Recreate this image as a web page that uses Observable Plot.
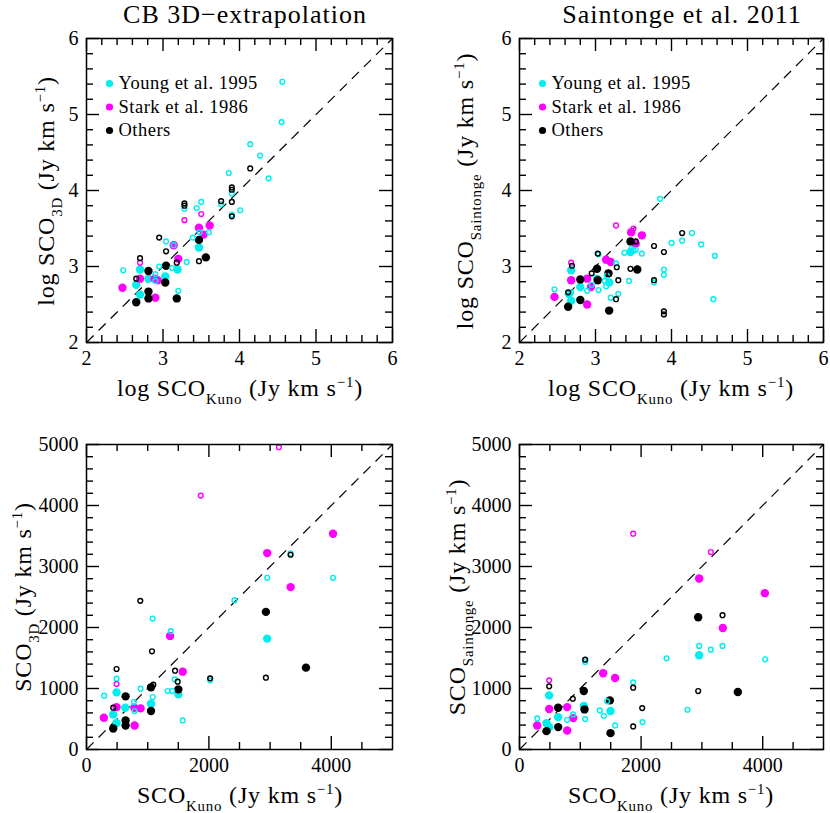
<!DOCTYPE html>
<html><head><meta charset="utf-8">
<script src="https://cdn.jsdelivr.net/npm/d3@7"></script>
<script src="https://cdn.jsdelivr.net/npm/@observablehq/plot@0.6"></script>
<style>
body{margin:0;background:#fff}
#wrap{position:relative;width:830px;height:813px;overflow:hidden}
#wrap svg{position:absolute}
</style>
</head><body><div id="wrap"></div>
<script>
// ---------- DATA ----------
// Top-left: log S_CO(3D) vs log S_CO(Kuno)
const tlYoungFilled = [[2.70,2.96],[2.65,2.76],[2.70,2.63],[2.81,2.84],[3.03,2.87],[3.19,2.96],[3.47,3.25]];
const tlYoungOpen = [[4.56,5.43],[4.55,4.90],[4.14,4.61],[4.27,4.46],[4.38,4.16],[3.86,4.23],[3.90,3.96],[3.76,3.82],[3.90,3.68],[4.01,3.74],[3.28,3.76],[3.44,3.77],[3.50,3.85],[3.60,3.45],[3.39,3.38],[3.48,3.45],[3.04,3.33],[3.14,3.28],[3.31,3.06],[2.95,3.00],[3.12,2.98],[2.90,2.90],[2.90,2.81],[2.48,2.95],[3.20,2.68]];
const tlStarkFilled = [[2.47,2.72],[2.70,2.84],[2.93,2.82],[2.89,2.84],[2.90,2.59],[3.14,3.28],[3.20,3.10],[3.47,3.51],[3.61,3.54],[3.53,3.42]];
const tlStarkOpen = [[2.70,3.05],[3.28,3.61],[3.50,3.69]];
const tlOthersFilled = [[2.81,2.94],[2.81,2.67],[2.81,2.58],[2.65,2.53],[3.04,3.01],[3.03,2.79],[3.18,2.58],[3.47,3.35],[3.56,3.12]];
const tlOthersOpen = [[2.70,3.11],[2.65,2.84],[2.95,3.38],[3.04,3.20],[3.18,3.05],[3.47,3.07],[3.28,3.83],[3.28,3.80],[3.76,3.86],[3.90,4.04],[3.90,4.01],[3.90,3.85],[3.90,3.66],[4.14,4.29]];

// Top-right: log S_CO(Saintonge) vs log S_CO(Kuno)
const trYoungFilled = [[2.68,2.95],[2.80,2.73],[2.68,2.55],[2.65,2.64],[3.02,2.84],[3.18,2.79],[3.46,3.19]];
const trYoungOpen = [[3.85,3.89],[4.27,3.44],[4.14,3.34],[4.00,3.31],[4.39,3.29],[4.57,3.14],[4.55,2.57],[3.90,2.96],[3.90,2.89],[3.77,2.79],[3.61,3.17],[3.38,3.18],[3.53,3.22],[3.47,3.23],[3.50,3.21],[3.44,2.81],[3.30,2.64],[3.20,2.59],[3.27,3.04],[3.04,3.16],[3.15,2.88],[3.12,2.81],[3.14,2.74],[3.04,2.69],[2.89,2.68],[2.95,2.76],[2.68,2.66],[2.46,2.70]];
const trStarkFilled = [[2.46,2.60],[2.68,2.82],[2.89,2.84],[2.94,2.73],[2.89,2.50],[3.14,3.09],[3.20,3.06],[3.47,3.45],[3.61,3.41],[3.53,3.30]];
const trStarkOpen = [[2.68,3.05],[3.27,3.54],[3.50,3.50]];
const trOthersFilled = [[2.64,2.47],[2.80,2.56],[2.80,2.83],[3.02,2.97],[3.03,2.82],[3.17,2.91],[3.18,2.42],[3.46,3.33],[3.55,2.96]];
const trOthersOpen = [[2.64,2.66],[2.69,3.01],[3.03,3.17],[2.95,2.91],[3.18,2.90],[3.28,2.99],[3.30,2.82],[3.27,2.57],[3.46,2.97],[3.77,3.27],[3.77,2.82],[3.90,3.19],[4.14,3.44],[3.90,2.41],[3.90,2.37],[3.53,3.33]];

// Bottom-left: S_CO(3D) vs S_CO(Kuno)
const blYoungFilled = [[2953,1818],[491,936],[1501,904],[1054,750],[633,685],[437,575],[491,433]];
const blYoungOpen = [[3335,3215],[4028,2815],[2953,2815],[2418,2448],[1081,2147],[1376,1939],[1441,1150],[2020,1134],[491,1161],[884,997],[1081,860],[1326,958],[1397,958],[775,778],[786,630],[289,882],[1572,476]];
const blStarkFilled = [[4028,3538],[2953,3220],[3335,2662],[1365,1862],[1572,1276],[284,520],[491,695],[781,685],[884,674],[786,394]];
const blStarkOpen = [[3144,4956],[1867,4162],[491,1073]];
const blOthersFilled = [[2931,2256],[3586,1342],[1501,986],[1054,1019],[1054,630],[639,871],[639,476],[639,394],[437,345]];
const blOthersOpen = [[879,2437],[1070,1610],[491,1320],[1447,1292],[2931,1177],[2020,1166],[3335,3193],[1490,1112],[1092,1062],[437,685]];

// Bottom-right: S_CO(Saintonge) vs S_CO(Kuno)
const brYoungFilled = [[2955,1544],[488,887],[636,531],[1058,712],[1497,630],[444,433],[488,367]];
const brYoungOpen = [[2955,1698],[3147,1637],[3339,1698],[2418,1495],[4040,1479],[2763,652],[1870,1101],[2023,449],[1573,394],[1080,1435],[1080,498],[1321,641],[1387,553],[784,487],[883,575],[291,509],[1442,789]];
const brStarkFilled = [[2955,2804],[4035,2563],[3344,1993],[1376,1249],[1573,1172],[488,663],[784,695],[883,515],[784,312],[291,394]];
const brStarkOpen = [[1870,3538],[3147,3237],[488,1134]];
const brOthersFilled = [[2939,2169],[3591,942],[1058,958],[1069,657],[636,685],[636,367],[444,301],[1497,268],[1486,805]];
const brOthersOpen = [[3339,2202],[2939,958],[1870,1013],[2018,679],[1870,378],[877,832],[488,1035],[1080,1473]];

// Legend, ticks, labels
const legendItems = ["Young et al. 1995", "Stark et al. 1986", "Others"];
const titles = ["CB 3D\u2212extrapolation", "Saintonge et al. 2011"];
const logDomain = [2, 6];
const linDomain = [0, 5000];
const logTickLabels = [2, 3, 4, 5, 6];
const logMinor = [2.2,2.4,2.6,2.8,3.2,3.4,3.6,3.8,4.2,4.4,4.6,4.8,5.2,5.4,5.6,5.8];
const linXTickLabels = [0, 2000, 4000];
const linXMinor = [500,1000,1500,2500,3000,3500,4500];
const linYTickLabels = [0, 1000, 2000, 3000, 4000, 5000];
const linYMinor = [200,400,600,800,1200,1400,1600,1800,2200,2400,2600,2800,3200,3400,3600,3800,4200,4400,4600,4800];

const lblLogKuno = [{t:"log SCO"},{t:"Kuno",sub:1},{t:" (Jy km s"},{t:"\u22121",sup:1},{t:")"}];
const lblLog3D = [{t:"log SCO"},{t:"3D",sub:1},{t:" (Jy km s"},{t:"\u22121",sup:1},{t:")"}];
const lblLogSaint = [{t:"log SCO"},{t:"Saintonge",sub:1},{t:" (Jy km s"},{t:"\u22121",sup:1},{t:")"}];
const lblKuno = [{t:"SCO"},{t:"Kuno",sub:1},{t:" (Jy km s"},{t:"\u22121",sup:1},{t:")"}];
const lbl3D = [{t:"SCO"},{t:"3D",sub:1},{t:" (Jy km s"},{t:"\u22121",sup:1},{t:")"}];
const lblSaint = [{t:"SCO"},{t:"Saintonge",sub:1},{t:" (Jy km s"},{t:"\u22121",sup:1},{t:")"}];

// ---------- STYLE ----------
const FONT = "'Liberation Serif', 'Times New Roman', serif";
const CYAN = "#00eeee", MAGENTA = "#ff00ff", BLACK = "#000000";
const colors = [CYAN, MAGENTA, BLACK];

function richLabel(svg, x, y, rotate, size, parts) {
  const t = d3.select(svg).append("text")
    .attr("transform", `translate(${x},${y}) rotate(${rotate})`)
    .attr("text-anchor", "middle")
    .attr("letter-spacing", 0.8)
    .attr("font-family", FONT).attr("font-size", size).attr("fill", "black");
  let shift = 0;
  for (const p of parts) {
    const target = p.sub ? size * 0.32 : p.sup ? -size * 0.38 : 0;
    t.append("tspan").attr("dy", target - shift)
      .attr("font-size", (p.sub || p.sup) ? size * 0.62 : size).text(p.t);
    shift = target;
  }
}

function makePanel(c) {
  const pw = c.W - c.m.l - c.m.r, ph = c.H - c.m.t - c.m.b;
  const LMAJ = 13, LMIN = 7, SW = 1.4;
  const marks = [];
  const ticksX = (vals, len) => [
    Plot.tickX(vals, {x: d => d, insetTop: ph - len, stroke: BLACK, strokeWidth: SW}),
    Plot.tickX(vals, {x: d => d, insetBottom: ph - len, stroke: BLACK, strokeWidth: SW})
  ];
  const ticksY = (vals, len) => [
    Plot.tickY(vals, {y: d => d, insetRight: pw - len, stroke: BLACK, strokeWidth: SW}),
    Plot.tickY(vals, {y: d => d, insetLeft: pw - len, stroke: BLACK, strokeWidth: SW})
  ];
  marks.push(...ticksX(c.xMajor, LMAJ), ...ticksX(c.xMinor, LMIN), ...ticksY(c.yMajor, LMAJ), ...ticksY(c.yMinor, LMIN));
  marks.push(Plot.link([c.diag], {x1: d => d[0], y1: d => d[0], x2: d => d[1], y2: d => d[1], stroke: BLACK, strokeWidth: 1.2, strokeDasharray: "10,7"}));
  // filled points first, then open ones
  c.filled.forEach((arr, i) => marks.push(Plot.dot(arr, {x: d => d[0], y: d => d[1], r: 4.2, fill: colors[i], stroke: "none"})));
  c.open.forEach((arr, i) => marks.push(Plot.dot(arr, {x: d => d[0], y: d => d[1], r: 2.4, fill: "none", stroke: colors[i], strokeWidth: 1.4})));
  if (c.legend) {
    legendItems.forEach((name, i) => {
      marks.push(Plot.dot([name], {frameAnchor: "top-left", dx: 23, dy: 45 + i * 23.5, r: 3.6, fill: colors[i], stroke: "none"}));
      marks.push(Plot.text([name], {frameAnchor: "top-left", dx: 32, dy: 45 + i * 23.5, text: d => d, textAnchor: "start", lineAnchor: "middle", fontSize: 18.5, fontFamily: FONT, fill: BLACK, className: "legend-text"}));
    });
  }
  marks.push(Plot.frame({stroke: BLACK, strokeWidth: 1.5}));
  marks.push(Plot.axisX(c.xLabels, {tickSize: 0, tickPadding: 8, fontSize: 20, fontFamily: FONT, label: null, tickFormat: "d"}));
  marks.push(Plot.axisY(c.yLabels, {tickSize: 0, tickPadding: 8, fontSize: 20, fontFamily: FONT, label: null, tickFormat: "d"}));
  const svg = Plot.plot({
    width: c.W, height: c.H,
    marginLeft: c.m.l, marginRight: c.m.r, marginTop: c.m.t, marginBottom: c.m.b,
    x: {domain: c.domain, label: null},
    y: {domain: c.domain, label: null},
    style: {fontFamily: FONT, background: "white", overflow: "visible", color: "black"},
    marks
  });
  svg.style.left = c.left + "px";
  svg.style.top = c.top + "px";
  d3.select(svg).selectAll(".legend-text text, g.legend-text text").attr("letter-spacing", 0.5);
  if (c.title) {
    d3.select(svg).append("text").attr("x", c.titleX).attr("y", 23).attr("text-anchor", "middle")
      .attr("letter-spacing", 1)
      .attr("font-family", FONT).attr("font-size", 26).attr("fill", "black").text(c.title);
  }
  richLabel(svg, c.xLab[0], c.xLab[1], 0, 24, c.xLabParts);
  richLabel(svg, c.yLab[0], c.yLab[1], -90, 24, c.yLabParts);
  document.getElementById("wrap").appendChild(svg);
}

const W = 415, H = 406;
const logCommon = {W, H, domain: logDomain, diag: logDomain, xMajor: logTickLabels, xMinor: logMinor, yMajor: logTickLabels, yMinor: logMinor, xLabels: logTickLabels, yLabels: logTickLabels, legend: true};
const linCommon = {W, H, domain: linDomain, diag: linDomain, xMajor: linXTickLabels, xMinor: linXMinor, yMajor: linYTickLabels, yMinor: linYMinor, xLabels: linXTickLabels, yLabels: linYTickLabels, legend: false};

makePanel({...logCommon, left: 0, top: 0, m: {l: 86, r: 23, t: 38, b: 64},
  filled: [tlYoungFilled, tlStarkFilled, tlOthersFilled], open: [tlYoungOpen, tlStarkOpen, tlOthersOpen],
  title: titles[0], titleX: 245, xLab: [240, 396], xLabParts: lblLogKuno, yLab: [54, 191], yLabParts: lblLog3D});
makePanel({...logCommon, left: 415, top: 0, m: {l: 104, r: 7, t: 38, b: 64},
  filled: [trYoungFilled, trStarkFilled, trOthersFilled], open: [trYoungOpen, trStarkOpen, trOthersOpen],
  title: titles[1], titleX: 267, xLab: [256, 396], xLabParts: lblLogKuno, yLab: [58, 191], yLabParts: lblLogSaint});
makePanel({...linCommon, left: 0, top: 406, m: {l: 86, r: 23, t: 38, b: 63},
  filled: [blYoungFilled, blStarkFilled, blOthersFilled], open: [blYoungOpen, blStarkOpen, blOthersOpen],
  xLab: [240, 397], xLabParts: lblKuno, yLab: [31, 191], yLabParts: lbl3D});
makePanel({...linCommon, left: 415, top: 406, m: {l: 104, r: 7, t: 38, b: 63},
  filled: [brYoungFilled, brStarkFilled, brOthersFilled], open: [brYoungOpen, brStarkOpen, brOthersOpen],
  xLab: [256, 397], xLabParts: lblKuno, yLab: [50, 191], yLabParts: lblSaint});
</script></body></html>
